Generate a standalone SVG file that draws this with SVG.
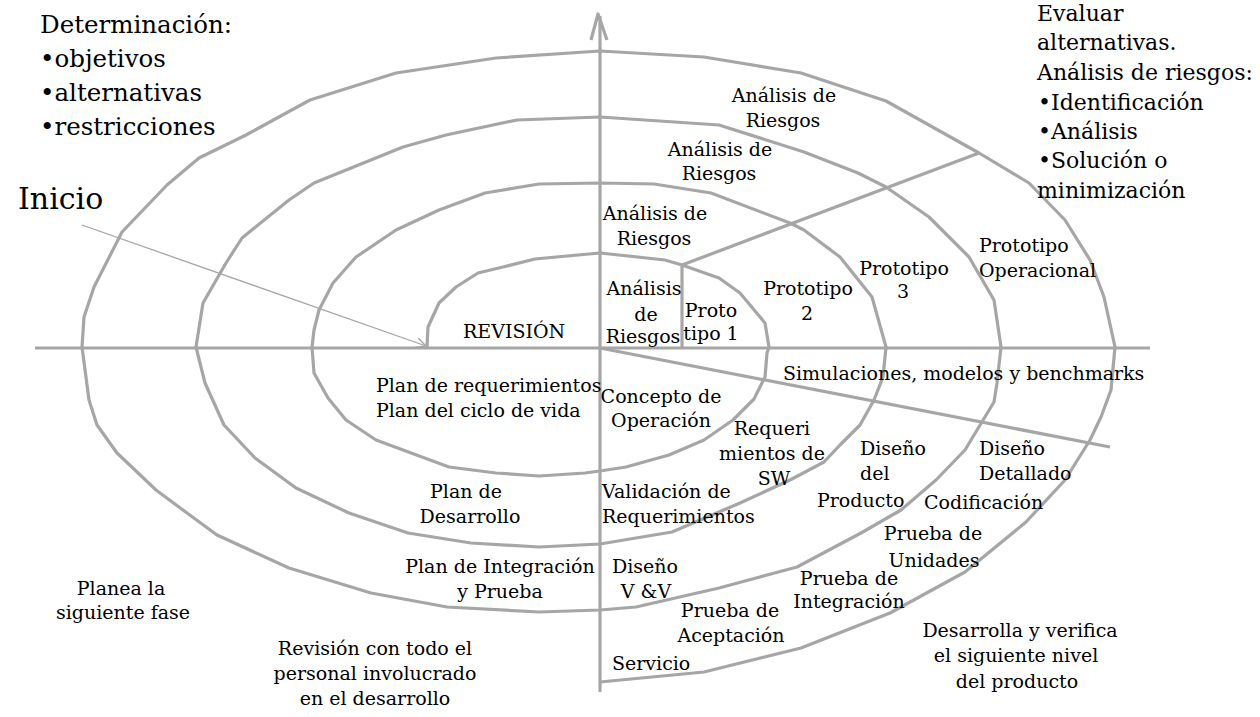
<svg xmlns="http://www.w3.org/2000/svg" width="1260" height="717" viewBox="0 0 1260 717">
<style>
.ln{fill:none;stroke:#a6a6a6;stroke-width:3.2;stroke-linejoin:round;stroke-linecap:butt}
.thin{fill:none;stroke:#a6a6a6;stroke-width:1.3}
text{font-family:"DejaVu Serif","Liberation Serif",serif;fill:#000}
.l{font-size:19px}
.c{text-anchor:middle}
.h1{font-size:24.5px}
.h2{font-size:22px}
.big{font-size:30px}
</style>
<defs>
<marker id="open" viewBox="0 0 12 12" refX="11" refY="6" markerWidth="12" markerHeight="12" markerUnits="userSpaceOnUse" orient="auto">
<path d="M1,1 L11,6 L1,11" fill="none" stroke="#a6a6a6" stroke-width="1.3"/>
</marker>
</defs>
<rect width="1260" height="717" fill="#fff"/>
<g id="connectors">
<line class="ln" x1="35" y1="348" x2="1150" y2="348"/>
<line class="ln" x1="600" y1="16" x2="600" y2="692"/>
<polyline class="ln" points="591,40 598,14 607,40" stroke-width="4" stroke-linejoin="round" stroke-linecap="round"/>
<line class="ln" x1="600" y1="348" x2="1110" y2="447"/>
<line class="ln" x1="682" y1="265" x2="979" y2="153"/>
<line class="ln" x1="682" y1="265" x2="682" y2="348"/>
<line class="thin" x1="82" y1="225" x2="426" y2="346" marker-end="url(#open)"/>
<polyline id="spiral" class="ln" points="427,347 428,327 439,303 456,287 478,273 503,267 535,259 600,253 665,260 682,265 719,278 740,293 765,323 769,347 767,353 765,377 754,399 733,420 704,440 669,455 626,467 600,471 585,473 539,476 496,473 449,467 376,440 346,420 328,398 314,373 312,347 314,330 319,310 333,283 356,257 396,230 439,210 485,193 539,184 600,183 654,184 711,193 790,223 804,230 840,257 872,297 886,347 883,377 874,400 860,425 840,445 824,462 790,480 740,503 672,532 600,544 539,547 471,543 408,533 349,513 296,488 255,458 224,425 205,383 196,347 203,303 226,263 242,238 289,200 314,183 403,147 446,135 517,120 600,117 719,125 804,152 858,173 886,187 929,217 969,257 994,300 1001,347 997,383 994,402 965,450 936,480 901,510 861,533 797,567 719,588 636,607 600,610 539,612 447,607 371,593 289,568 217,535 187,513 156,490 117,453 97,425 89,400 82,347 84,317 94,287 122,232 167,185 199,158 246,135 310,100 396,73 496,58 600,51 704,57 801,73 886,101 979,153 1029,183 1065,220 1090,260 1104,297 1115,347 1111,390 1101,417 1090,440 1065,480 1026,522 965,572 890,613 801,648 704,672 600,682"/>
</g>
<g id="determinacion">
<text class="h1" x="40" y="33">Determinación:</text>
<text class="h1" x="40" y="67">•objetivos</text>
<text class="h1" x="40" y="101">•alternativas</text>
<text class="h1" x="40" y="135">•restricciones</text>
</g>
<g id="inicio"><text class="big" x="18" y="209">Inicio</text></g>
<g id="evaluar">
<text class="h2" x="1037" y="21">Evaluar</text>
<text class="h2" x="1037" y="50">alternativas.</text>
<text class="h2" x="1037" y="80">Análisis de riesgos:</text>
<text class="h2" x="1038" y="110">•Identificación</text>
<text class="h2" x="1038" y="139">•Análisis</text>
<text class="h2" x="1038" y="168">•Solución o</text>
<text class="h2" x="1037" y="198">minimización</text>
</g>
<g id="riesgos4"><text class="l c" x="784" y="102">Análisis de</text><text class="l c" x="783" y="127">Riesgos</text></g>
<g id="riesgos3"><text class="l c" x="720" y="156">Análisis de</text><text class="l c" x="719" y="180">Riesgos</text></g>
<g id="riesgos2"><text class="l c" x="655" y="220">Análisis de</text><text class="l c" x="654" y="245">Riesgos</text></g>
<g id="riesgos1"><text class="l c" x="644" y="295">Análisis</text><text class="l c" x="646" y="321">de</text><text class="l c" x="643" y="343">Riesgos</text></g>
<g id="prototipo1"><text class="l c" x="711" y="317">Proto</text><text class="l c" x="711" y="340">tipo 1</text></g>
<g id="prototipo2"><text class="l c" x="808" y="295">Prototipo</text><text class="l c" x="807" y="320">2</text></g>
<g id="prototipo3"><text class="l c" x="904" y="275">Prototipo</text><text class="l c" x="903" y="298">3</text></g>
<g id="prototipoOp"><text class="l" x="979" y="252">Prototipo</text><text class="l" x="979" y="277">Operacional</text></g>
<g id="revision"><text class="l" x="463" y="338">REVISIÓN</text></g>
<g id="simulaciones"><text class="l" x="783" y="380">Simulaciones, modelos y benchmarks</text></g>
<g id="planReq"><text class="l" x="376" y="392">Plan de requerimientos</text><text class="l" x="376" y="417">Plan del ciclo de vida</text></g>
<g id="concepto"><text class="l c" x="661" y="403">Concepto de</text><text class="l c" x="661" y="427">Operación</text></g>
<g id="requeri"><text class="l c" x="772" y="435">Requeri</text><text class="l c" x="772" y="460">mientos de</text><text class="l c" x="774" y="485">SW</text></g>
<g id="disenoProducto"><text class="l" x="860" y="455">Diseño</text><text class="l" x="860" y="480">del</text><text class="l" x="817" y="507">Producto</text></g>
<g id="disenoDetallado"><text class="l" x="979" y="455">Diseño</text><text class="l" x="979" y="480">Detallado</text></g>
<g id="codificacion"><text class="l" x="924" y="509">Codificación</text></g>
<g id="planDesarrollo"><text class="l c" x="466" y="498">Plan de</text><text class="l c" x="470" y="523">Desarrollo</text></g>
<g id="validacion"><text class="l" x="602" y="498">Validación de</text><text class="l" x="602" y="523">Requerimientos</text></g>
<g id="pruebaUnidades"><text class="l c" x="933" y="540">Prueba de</text><text class="l c" x="934" y="567">Unidades</text></g>
<g id="planIntegracion"><text class="l c" x="500" y="573">Plan de Integración</text><text class="l c" x="500" y="598">y Prueba</text></g>
<g id="disenoVV"><text class="l c" x="645" y="573">Diseño</text><text class="l c" x="646" y="598">V &amp;V</text></g>
<g id="pruebaIntegracion"><text class="l c" x="849" y="585">Prueba de</text><text class="l c" x="849" y="608">Integración</text></g>
<g id="planea"><text class="l c" x="121" y="595">Planea la</text><text class="l c" x="123" y="619">siguiente fase</text></g>
<g id="pruebaAceptacion"><text class="l c" x="730" y="617">Prueba de</text><text class="l c" x="731" y="642">Aceptación</text></g>
<g id="desarrolla"><text class="l c" x="1020" y="637">Desarrolla y verifica</text><text class="l c" x="1016" y="662">el siguiente nivel</text><text class="l c" x="1017" y="688">del producto</text></g>
<g id="servicio"><text class="l" x="612" y="670">Servicio</text></g>
<g id="revisionPersonal"><text class="l c" x="375" y="655">Revisión con todo el</text><text class="l c" x="375" y="680">personal involucrado</text><text class="l c" x="375" y="705">en el desarrollo</text></g>
</svg>
